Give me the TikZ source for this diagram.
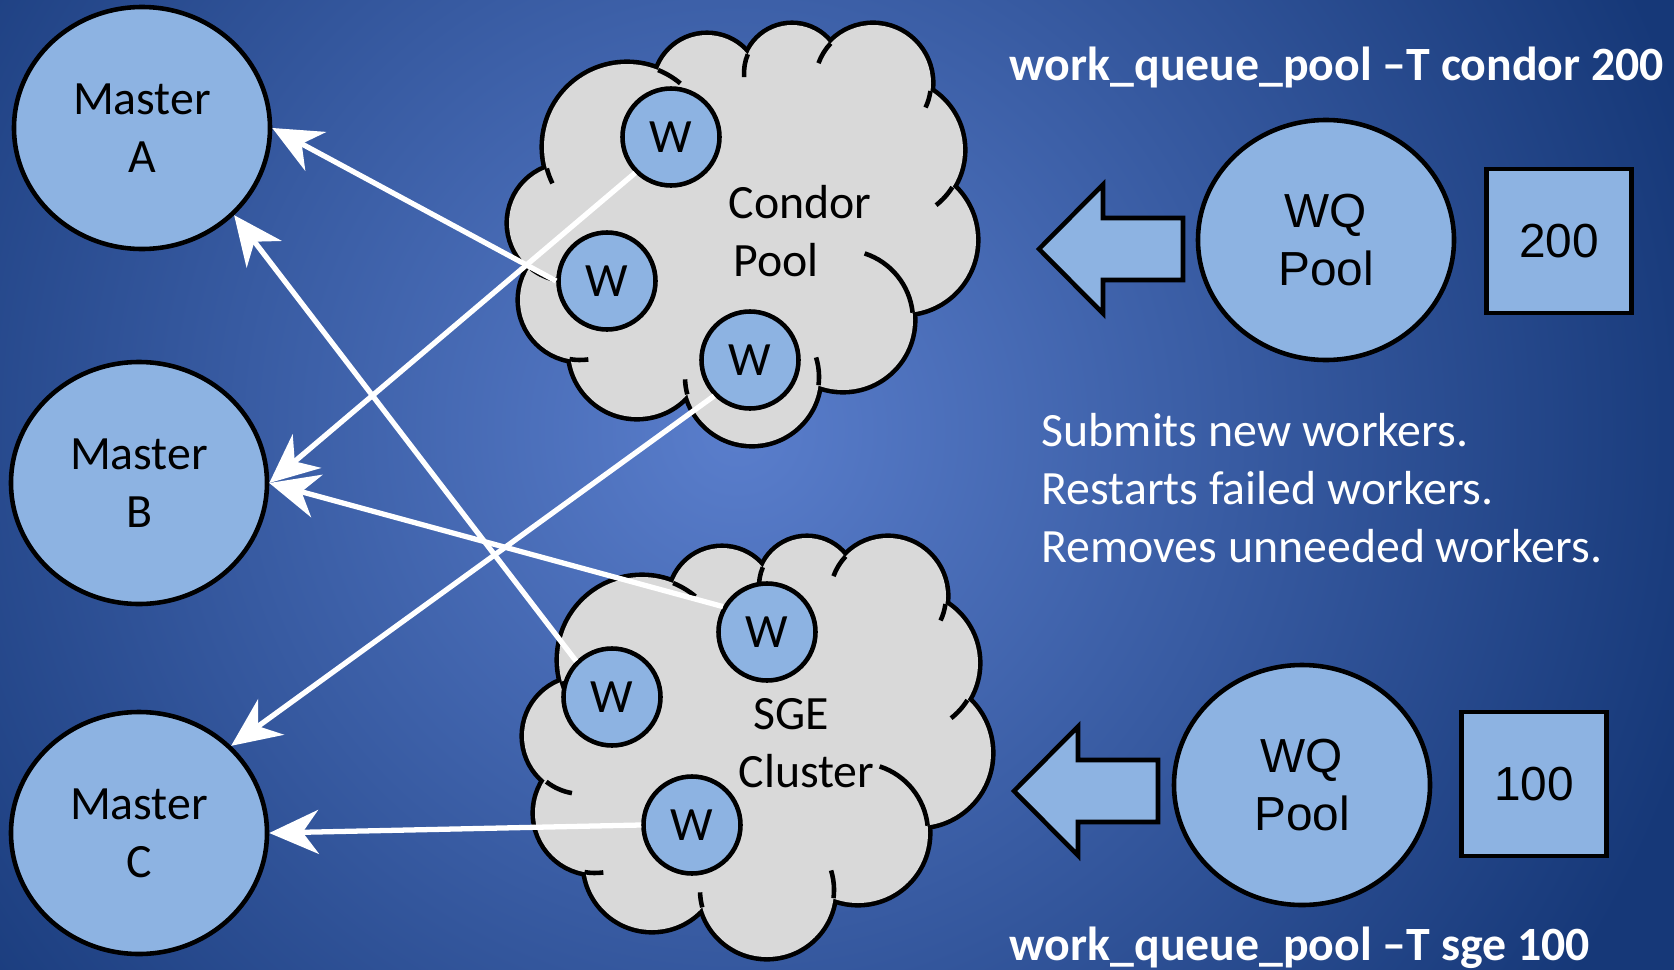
\documentclass[tikz,border=0pt]{standalone}
\usepackage{fontspec}
\setmainfont{Carlito}
\newfontfamily\arialfont{Liberation Sans}
\usetikzlibrary{shapes,arrows.meta,calc}
\definecolor{nodeblue}{RGB}{141,179,226}
\definecolor{cloudgray}{RGB}{217,217,217}
\definecolor{bgouter}{RGB}{22,56,120}
\definecolor{bginner}{RGB}{90,126,204}
\newcommand{\bigfont}{\fontsize{13.6}{16.5}\selectfont}
\tikzstyle{master}=[ellipse,draw,fill=nodeblue,line width=1.3pt,minimum width=2.56cm,minimum height=2.42cm,inner sep=0pt,align=center]
\tikzstyle{worker}=[circle,draw,fill=nodeblue,line width=1.3pt,minimum size=0.97cm,inner sep=0pt]
\tikzstyle{pool}=[ellipse,draw,fill=nodeblue,line width=1.3pt,minimum width=2.56cm,minimum height=2.40cm,inner sep=0pt,align=center,font=\arialfont\bigfont]
\tikzstyle{countbox}=[rectangle,draw,fill=nodeblue,line width=1.3pt,minimum width=1.45cm,minimum height=1.44cm,font=\arialfont\bigfont]
\tikzstyle{feed}=[white,line width=1.5pt,-{Stealth[length=14pt,width=12.5pt,inset=4.5pt]}]
\tikzstyle{blockarrow}=[draw,fill=nodeblue,line width=1.3pt,line join=miter]
\tikzstyle{cmdline}=[white,font=\bfseries\bigfont,inner sep=0pt]
\tikzstyle{note}=[white,inner sep=0pt,align=left]

\tikzset{
  % puffs drawn with double width, then filled over: only the outer rim stays
  puffcloud/.pic={
    \foreach \c/\r in {{(-1.76,0.07)/0.58}, {(-1.63,-0.70)/0.60}, {(-1.06,-1.20)/0.67}, {(0.09,-1.47)/0.67}, {(1.00,-0.90)/0.70}, {(1.60,-0.10)/0.73}, {(1.50,0.80)/0.70}, {(1.30,1.47)/0.58}, {(0.49,1.57)/0.48}, {(-0.36,1.43)/0.52}, {(-1.16,0.83)/0.83}}
      \draw[line width=2.6pt] \c circle (\r);
    \foreach \c/\r in {{(-1.76,0.07)/0.58}, {(-1.63,-0.70)/0.60}, {(-1.06,-1.20)/0.67}, {(0.09,-1.47)/0.67}, {(1.00,-0.90)/0.70}, {(1.60,-0.10)/0.73}, {(1.50,0.80)/0.70}, {(1.30,1.47)/0.58}, {(0.49,1.57)/0.48}, {(-0.36,1.43)/0.52}, {(-1.16,0.83)/0.83}}
      \fill[cloudgray] \c circle (\r);
    \fill[cloudgray] (0,0) ellipse (1.8 and 1.5);
    % little hooks inside the cloud
    \foreach \c/\r/\a/\b in {{(-1.16,0.83)/0.83/68/50}, {(0.49,1.57)/0.48/157/185}, {(1.30,1.47)/0.58/137/160}, {(1.30,1.47)/0.58/-8/-25}, {(1.50,0.80)/0.70/-32/-52}, {(1.00,-0.90)/0.70/6/72}, {(0.09,-1.47)/0.67/-7/17}, {(0.09,-1.47)/0.67/195/182}, {(-1.63,-0.70)/0.60/-100/-82}, {(-1.76,0.07)/0.58/-128/-100}, {(-1.16,0.83)/0.83/195/206}}
      \draw[line width=1.3pt] \c ++(\a:\r) arc (\a:\b:\r);
  },
  poolarrow/.pic={
    \draw[blockarrow] (0,0) -- (0.64,0.645) -- (0.64,0.31) -- (1.44,0.31) -- (1.44,-0.31) -- (0.64,-0.31) -- (0.64,-0.645) -- cycle;
  }
}

\begin{document}
\begin{tikzpicture}[font=\bigfont]

\useasboundingbox (0,0) rectangle (16.74,-9.70);
\fill[bgouter] (0,0) rectangle (16.74,-9.70);
\begin{scope}
  \clip (0,0) rectangle (16.74,-9.70);
  \shade[inner color=bginner, outer color=bgouter] (7.37,-4.30) circle (10);
\end{scope}

\pic at (7.43,-2.30) {puffcloud};
\pic at (7.58,-7.43) {puffcloud};

\node[inner sep=0pt, anchor=west, align=left] (condor) at (7.28,-2.31) {Condor\\\hspace*{0.05cm}Pool};
\node[inner sep=0pt, anchor=west, align=left] (sge) at (7.38,-7.43) {\hspace*{0.15cm}SGE\\Cluster};

\foreach \pos/\name/\lbl in {{(1.42,-1.28)/mA/A}, {(1.39,-4.83)/mB/B}, {(1.39,-8.33)/mC/C}}
    \node[master] (\name) at \pos {Master\\\lbl};

\foreach \pos/\name in {{(6.71,-1.37)/w1}, {(6.07,-2.81)/w2}, {(7.50,-3.60)/w3}, {(7.67,-6.32)/w4}, {(6.12,-6.97)/w5}, {(6.92,-8.25)/w6}}
    \node[worker] (\name) at \pos {W};

\foreach \source/\dest in {w2.west/mA.east, w1.south west/mB.east, w3.south west/mC.north east, w5.north west/mA.south east, w4.150/mB.east, w6.west/mC.east}
    \draw[feed] (\source) -- (\dest);

% pool side
\node[pool] (wq1) at (13.26,-2.40) {WQ\\Pool};
\node[countbox] (n200) at (15.59,-2.41) {200};
\pic at (10.39,-2.49) {poolarrow};

\node[pool] (wq2) at (13.02,-7.85) {WQ\\Pool};
\node[countbox] (n100) at (15.34,-7.84) {100};
\pic at (10.14,-7.91) {poolarrow};

\node[cmdline, anchor=base west] (cmd1) at (10.09,-0.80) {work\_queue\_pool --T condor 200};
\node[cmdline, anchor=base west] (cmd2) at (10.09,-9.60) {work\_queue\_pool --T sge 100};

\node[note, anchor=base west] (jobs) at (10.41,-5.62) {Submits new workers.\\Restarts failed workers.\\Removes unneeded workers.};

\end{tikzpicture}
\end{document}
